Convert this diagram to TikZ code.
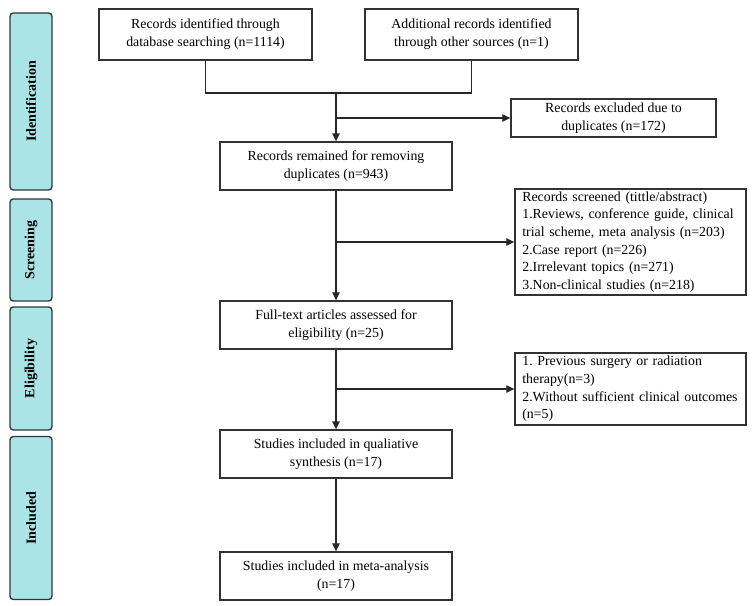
\documentclass[tikz,border=0pt]{standalone}
\usepackage{fontspec}
\setmainfont{Liberation Serif}
\usetikzlibrary{arrows.meta}
\definecolor{sidefill}{RGB}{170,228,230}
\definecolor{sidedraw}{RGB}{45,55,60}
\definecolor{boxdraw}{RGB}{50,50,50}
\hyphenpenalty=10000
\exhyphenpenalty=10000
\begin{document}
\frenchspacing
\begin{tikzpicture}[x=0.75pt,y=-0.75pt,
  side/.style={draw=sidedraw,line width=1pt,fill=sidefill,rounded corners=2.5pt,
    minimum width=42*0.75pt,inner sep=0pt,rotate=90,
    font=\fontsize{10.5}{12}\selectfont\bfseries},
  box/.style={draw=boxdraw,line width=1pt,align=center,inner sep=0pt,
    font=\fontsize{10.4}{13.5}\selectfont},
  lbox/.style={draw=boxdraw,line width=1pt,align=left,inner xsep=5.5pt,inner ysep=0pt,
    text width=231*0.75pt-11pt,
    font=\fontsize{10.4}{13.2}\selectfont},
  conn/.style={line width=0.9pt,draw=black!85},
  arr/.style={conn,-{Triangle[length=6pt,width=5.5pt]}}]
\useasboundingbox (0,0) rectangle (756,606);
% side labels (rotated: minimum width is along the text, i.e. vertical)
\node[side,minimum height=42*0.75pt,minimum width=177*0.75pt] (sid) at (31,101.5) {Identification};
\node[side,minimum height=42*0.75pt,minimum width=102*0.75pt] (sscr) at (31,250) {Screening};
\node[side,minimum height=42*0.75pt,minimum width=123*0.75pt] (seli) at (31,368.5) {Eligibility};
\node[side,minimum height=42*0.75pt,minimum width=163*0.75pt] (sinc) at (31,518) {Included};
% flow boxes
\node[box,minimum width=213*0.75pt,minimum height=51*0.75pt] (a) at (205.5,34.5) {Records identified through\\database searching (n=1114)};
\node[box,minimum width=213*0.75pt,minimum height=51*0.75pt] (b) at (471.5,34.5) {Additional records identified\\through other sources (n=1)};
\node[box,minimum width=232*0.75pt,minimum height=48*0.75pt] (c) at (336,166) {Records remained for removing\\duplicates (n=943)};
\node[box,minimum width=205*0.75pt,minimum height=38*0.75pt] (d) at (613.5,118) {Records excluded due to\\duplicates (n=172)};
\node[lbox,minimum height=106*0.75pt] (e) at (630.5,242) {Records screened (tittle/abstract)\\1.Reviews, conference guide, clinical\\trial scheme, meta analysis (n=203)\\2.Case report (n=226)\\2.Irrelevant topics (n=271)\\3.Non-clinical studies (n=218)};
\node[box,minimum width=232*0.75pt,minimum height=48*0.75pt] (f) at (336,325) {Full-text articles assessed for\\eligibility (n=25)};
\node[lbox,minimum height=72*0.75pt] (g) at (630.5,389) {1. Previous surgery or radiation\\therapy(n=3)\\2.Without sufficient clinical outcomes\\(n=5)};
\node[box,minimum width=232*0.75pt,minimum height=48*0.75pt] (h) at (336,454) {Studies included in qualiative\\synthesis (n=17)};
\node[box,minimum width=232*0.75pt,minimum height=48*0.75pt] (i) at (336,576) {Studies included in meta-analysis\\(n=17)};
% junction coordinates
\coordinate (j1) at (336,93);
\coordinate (j2) at (336,118);
\coordinate (j3) at (336,242);
\coordinate (j4) at (336,389);
% connectors
\draw[conn] (a.south) |- (j1) -| (b.south);
\draw[arr] (j1) -- (c.north);
\draw[arr] (j2) -- (d.west);
\draw[arr] (c.south) -- (f.north);
\draw[arr] (j3) -- (e.west);
\draw[arr] (f.south) -- (h.north);
\draw[arr] (j4) -- (g.west);
\draw[arr] (h.south) -- (i.north);
\end{tikzpicture}
\end{document}
